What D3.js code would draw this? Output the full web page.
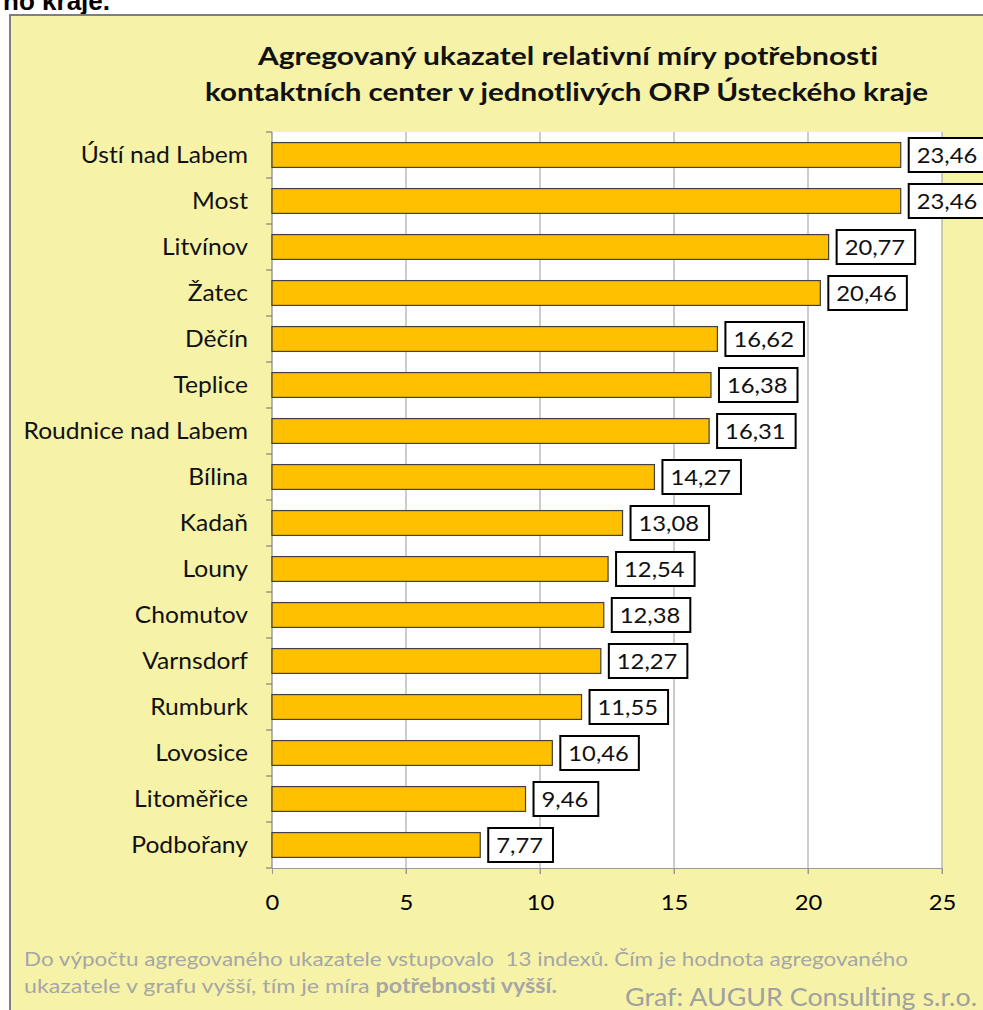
<!DOCTYPE html>
<html><head><meta charset="utf-8">
<script src="https://cdn.jsdelivr.net/npm/d3@7"></script>
<style>body{margin:0;background:#fff;} svg{display:block;} text{font-variant-ligatures:none;font-feature-settings:"liga" 0,"clig" 0;}</style>
</head><body>
<svg id="c" width="983" height="1010"></svg>
<script>
const categories = ["Ústí nad Labem","Most","Litvínov","Žatec","Děčín","Teplice","Roudnice nad Labem","Bílina","Kadaň","Louny","Chomutov","Varnsdorf","Rumburk","Lovosice","Litoměřice","Podbořany"];
const values = [23.46,23.46,20.77,20.46,16.62,16.38,16.31,14.27,13.08,12.54,12.38,12.27,11.55,10.46,9.46,7.77];
const xTicks = [0,5,10,15,20,25];
const titleLines = ["Agregovaný ukazatel relativní míry potřebnosti","kontaktních center v jednotlivých ORP Ústeckého kraje"];

const F = "Lato, 'Open Sans', sans-serif";
const svg = d3.select("#c");

// horizontal stretch helper (reference text is wider than Lato)
function stretch(sel, k){
  sel.each(function(){
    const w = this.getComputedTextLength();
    d3.select(this).attr("textLength", w*k).attr("lengthAdjust","spacingAndGlyphs");
  });
}

svg.append("text").attr("x",110).attr("y",10).attr("text-anchor","end")
  .attr("font-family","'Liberation Sans', Arial, sans-serif")
  .attr("font-weight","bold").attr("font-size",26).attr("fill","#000").text("no kraje.");

svg.append("rect").attr("x",10).attr("y",15).attr("width",990).attr("height",1010)
  .attr("fill","#f6f3a9").attr("stroke","#7f7f7f").attr("stroke-width",2);

const m = {l:272, r:942, t:132, b:868};
const x = d3.scaleLinear().domain([0,25]).range([m.l,m.r]);
const y = d3.scaleBand().domain(categories).range([m.t,m.b]).paddingInner(0.46).paddingOuter(0.23);

svg.append("rect").attr("x",m.l).attr("y",m.t).attr("width",m.r-m.l).attr("height",m.b-m.t).attr("fill","#fff");

// gridlines
svg.append("g").selectAll("line").data(xTicks.slice(1)).join("line")
  .attr("x1",d=>x(d)).attr("x2",d=>x(d)).attr("y1",m.t).attr("y2",m.b+6)
  .attr("stroke","#999").attr("stroke-width",1);

// x axis
const xa = svg.append("g").attr("transform",`translate(0,${m.b})`)
  .call(d3.axisBottom(x).tickValues(xTicks).tickSize(6).tickPadding(0));
xa.select(".domain").attr("stroke","#999");
xa.selectAll(".tick line").attr("stroke","#999");
xa.selectAll("text").attr("font-family",F).attr("font-size",22).attr("fill","#000").attr("dy",null).attr("y",42);
stretch(xa.selectAll("text"),1.08);

// y axis
const step = y.step();
const ya = svg.append("g").attr("transform",`translate(${m.l},0)`);
ya.append("line").attr("x1",0).attr("x2",0).attr("y1",m.t).attr("y2",m.b).attr("stroke","#6e6e6e");
ya.selectAll("line.t").data(d3.range(categories.length+1)).join("line").attr("class","t")
  .attr("x1",-6).attr("x2",0).attr("y1",i=>m.t+i*step).attr("y2",i=>m.t+i*step).attr("stroke","#6e6e6e");
const cl = svg.append("g").selectAll("text").data(categories).join("text")
  .attr("x",248).attr("y",d=>y(d)+y.bandwidth()/2+7.5)
  .attr("text-anchor","end").attr("font-family",F).attr("font-size",23).attr("fill","#111").text(d=>d);
stretch(cl,1.07);

// bars
const data = categories.map((c,i)=>({c,v:values[i]}));
svg.append("g").selectAll("rect").data(data).join("rect")
  .attr("x",x(0)).attr("y",d=>y(d.c)).attr("width",d=>x(d.v)-x(0)).attr("height",y.bandwidth())
  .attr("fill","#ffc000").attr("stroke","#404040").attr("stroke-width",1.2);

// value labels
const fmt = v => v.toFixed(2).replace(".",",");
const lg = svg.append("g").selectAll("g").data(data).join("g")
  .attr("transform",d=>`translate(${x(d.v)+8},${y(d.c)+y.bandwidth()/2})`);
const vt = lg.append("text").attr("x",8).attr("y",8).attr("font-family",F).attr("font-size",22).attr("fill","#111").text(d=>fmt(d.v));
stretch(vt,1.08);
lg.each(function(){
  const g = d3.select(this); const w = +g.select("text").attr("textLength");
  g.insert("rect","text").attr("x",0).attr("y",-17).attr("width",w+18).attr("height",34)
    .attr("fill","#fff").attr("stroke","#000").attr("stroke-width",2);
});

// title
const tl = svg.append("g").selectAll("text").data(titleLines).join("text")
  .attr("x",(d,i)=>i?566.5:568).attr("y",(d,i)=>i?101:64.5).attr("text-anchor","middle")
  .attr("font-family",F).attr("font-weight","bold").attr("font-size",24.5).attr("fill","#111").text(d=>d)
  .attr("textLength",(d,i)=>i?723:620).attr("lengthAdjust","spacingAndGlyphs");

// footnote
const gray = "#a6a6a6";
svg.append("text").attr("x",24).attr("y",966).attr("font-family",F).attr("font-size",20).attr("fill",gray)
  .attr("textLength",884).attr("lengthAdjust","spacingAndGlyphs").style("white-space","pre")
  .text("Do výpočtu agregovaného ukazatele vstupovalo  13 indexů. Čím je hodnota agregovaného");
const t2 = svg.append("text").attr("x",24).attr("y",993).attr("font-family",F).attr("font-size",20).attr("fill",gray);
t2.append("tspan").text("ukazatele v grafu vyšší, tím je míra ");
t2.append("tspan").attr("font-weight","bold").text("potřebnosti vyšší.");
t2.attr("textLength",533).attr("lengthAdjust","spacingAndGlyphs");
const gf = svg.append("text").attr("x",977).attr("y",1006).attr("text-anchor","end").attr("font-family",F).attr("font-size",25).attr("fill","#a0a0a0")
  .text("Graf: AUGUR Consulting s.r.o.").attr("textLength",352).attr("lengthAdjust","spacingAndGlyphs");
</script>
</body></html>
